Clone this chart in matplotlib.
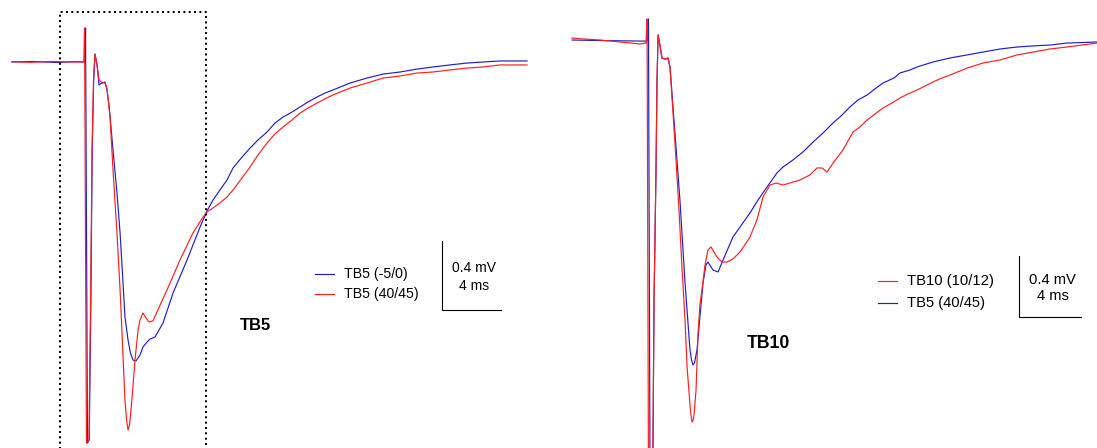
import matplotlib
matplotlib.use("Agg")
import matplotlib.pyplot as plt
from matplotlib.transforms import Affine2D

plt.rcParams['font.family'] = ['Liberation Sans', 'DejaVu Sans']

# ---- TB5 recording (time in ms from stimulus, potential in mV) ----
tb5_blue_t = [-5.02, -3.5, -2.0, -0.8, -0.08, -0.03, 0.10, 0.22, 0.33, 0.42, 0.52, 0.61,
              0.75, 0.88, 1.08, 1.29, 1.42, 1.56, 1.83, 2.10, 2.31, 2.51, 2.64, 2.85,
              3.02, 3.19, 3.39, 3.66, 3.86, 4.14, 4.34, 4.68, 5.22, 5.90, 6.85, 7.73,
              8.20, 8.61, 9.08, 9.56, 9.97, 10.58, 11.12, 11.66, 12.27, 12.81, 13.36,
              13.97, 14.51, 15.05, 15.66, 16.20, 16.75, 17.90, 19.05, 20.14, 21.29,
              22.44, 23.53, 24.68, 25.83, 26.92, 28.07, 29.90]
tb5_blue_v = [0.0, 0.003, -0.003, 0.002, 0.0, 0.197, -2.209, -2.19, -1.380, -0.510,
              -0.104, 0.046, -0.017, -0.133, -0.122, -0.116, -0.162, -0.249, -0.510,
              -0.759, -0.991, -1.281, -1.478, -1.612, -1.690, -1.728, -1.733, -1.699,
              -1.652, -1.623, -1.606, -1.594, -1.513, -1.339, -1.148, -0.957, -0.864,
              -0.800, -0.742, -0.684, -0.614, -0.551, -0.499, -0.452, -0.406, -0.354,
              -0.319, -0.290, -0.261, -0.232, -0.203, -0.180, -0.162, -0.122, -0.093,
              -0.070, -0.058, -0.041, -0.029, -0.017, -0.006, 0.0, 0.006, 0.006]

tb5_red_t = [-5.02, -3.8, -2.3, -1.0, -0.15, -0.10, 0.03, 0.20, 0.31, 0.41, 0.51, 0.61,
             0.75, 0.88, 1.08, 1.29, 1.42, 1.63, 1.83, 2.10, 2.31, 2.44, 2.64, 2.75,
             2.85, 2.95, 3.05, 3.19, 3.32, 3.53, 3.66, 3.86, 4.07, 4.27, 4.54, 4.81,
             5.02, 5.49, 6.37, 7.25, 7.93, 8.20, 8.61, 9.08, 9.56, 9.97, 10.58, 11.12,
             11.66, 12.27, 12.81, 13.36, 13.97, 14.51, 15.05, 15.66, 16.20, 16.75,
             17.90, 19.05, 20.14, 21.29, 22.44, 23.53, 24.68, 25.83, 26.92, 28.07,
             29.90]
tb5_red_v = [0.002, -0.002, 0.003, 0.0, 0.0, 0.197, -2.209, -2.19, -1.380, -0.510,
             -0.104, 0.046, -0.017, -0.104, -0.120, -0.122, -0.151, -0.319, -0.626,
             -0.991, -1.322, -1.571, -1.959, -2.075, -2.133, -2.104, -2.017, -1.872,
             -1.728, -1.554, -1.496, -1.455, -1.484, -1.507, -1.501, -1.449, -1.409,
             -1.322, -1.148, -0.991, -0.899, -0.870, -0.846, -0.817, -0.783, -0.742,
             -0.672, -0.609, -0.539, -0.470, -0.417, -0.377, -0.336, -0.296, -0.267,
             -0.238, -0.214, -0.191, -0.151, -0.122, -0.093, -0.081, -0.064, -0.058,
             -0.046, -0.035, -0.029, -0.017, -0.017]

# ---- TB10 recording ----
tb10_blue_t = [-4.90, -3.5, -2.0, -0.5, -0.05, 0.03, 0.13, 0.24, 0.32, 0.39, 0.52,
               0.58, 0.65, 0.77, 0.90, 1.10, 1.29, 1.42, 1.74, 2.06, 2.39, 2.71, 2.81,
               2.90, 3.00, 3.16, 3.35, 3.55, 3.74, 3.87, 4.19, 4.52, 4.84, 5.48, 5.94,
               6.58, 7.10, 7.68, 8.32, 8.71, 9.35, 10.00, 10.65, 11.29, 11.94, 12.52,
               13.03, 13.55, 14.13, 14.71, 15.16, 15.87, 16.26, 16.90, 17.35, 18.39,
               19.48, 20.58, 21.61, 22.71, 23.81, 24.84, 25.94, 27.03, 28.97]
tb10_blue_v = [0.0, -0.003, -0.005, -0.007, -0.007, 0.138, -2.82, -2.80, -2.669,
               -1.705, -0.833, -0.282, 0.033, -0.033, -0.118, -0.125, -0.118, -0.177,
               -0.610, -1.049, -1.593, -2.033, -2.098, -2.131, -2.118, -2.033, -1.816,
               -1.593, -1.475, -1.456, -1.508, -1.521, -1.443, -1.292, -1.226, -1.134,
               -1.049, -0.964, -0.872, -0.833, -0.787, -0.734, -0.669, -0.610, -0.544,
               -0.492, -0.439, -0.393, -0.361, -0.315, -0.282, -0.249, -0.216, -0.197,
               -0.177, -0.144, -0.118, -0.098, -0.079, -0.059, -0.046, -0.039, -0.033,
               -0.020, -0.013]

tb10_red_t = [-4.90, -4.2, -3.10, -1.81, -0.52, -0.13, -0.06, 0.03, 0.20, 0.32, 0.39,
              0.52, 0.58, 0.65, 0.77, 0.90, 1.10, 1.29, 1.42, 1.74, 2.00, 2.19, 2.39,
              2.52, 2.71, 2.78, 2.84, 2.90, 2.97, 3.10, 3.23, 3.35, 3.48, 3.68, 3.87,
              4.06, 4.26, 4.45, 4.77, 5.10, 5.48, 5.94, 6.58, 7.03, 7.42, 7.87, 8.26,
              8.71, 9.81, 10.45, 10.90, 11.23, 11.55, 11.94, 12.58, 13.23, 13.68, 14.13,
              14.65, 15.16, 15.74, 16.26, 16.77, 17.35, 17.87, 18.39, 18.97, 19.48,
              20.58, 21.61, 22.71, 23.81, 24.84, 25.94, 27.03, 28.97]
tb10_red_v = [0.013, 0.007, 0.0, -0.013, -0.026, -0.020, 0.138, -2.82, -2.80, -2.669,
              -1.705, -0.833, -0.282, 0.033, -0.033, -0.118, -0.125, -0.118, -0.177,
              -0.675, -1.115, -1.489, -1.836, -2.144, -2.393, -2.466, -2.505, -2.498,
              -2.459, -2.295, -1.921, -1.738, -1.639, -1.475, -1.377, -1.357, -1.390,
              -1.423, -1.456, -1.456, -1.436, -1.390, -1.292, -1.180, -1.030, -0.951,
              -0.938, -0.951, -0.918, -0.885, -0.839, -0.839, -0.866, -0.807, -0.721,
              -0.603, -0.570, -0.525, -0.485, -0.446, -0.413, -0.380, -0.354, -0.328,
              -0.302, -0.275, -0.249, -0.230, -0.184, -0.151, -0.131, -0.098, -0.079,
              -0.059, -0.046, -0.020]

tb5_labels = ['TB5 (-5/0)', 'TB5 (40/45)']
tb10_labels = ['TB10 (10/12)', 'TB5 (40/45)']
scale_mv = 0.4
scale_ms = 4
scale_text = ['0.4 mV', '4 ms']

BLUE = '#1f1fc8'
RED = '#ff1e1e'

W, H = 1097, 448
fig = plt.figure(figsize=(W / 100, H / 100), dpi=100)
# pixel coordinates (origin top-left) for annotations
px = Affine2D().scale(1 / W, -1 / H).translate(0, 1) + fig.transFigure


def panel(xlim, ylim):
    ax = fig.add_axes([0, 0, 1, 1])
    ax.set_xlim(*xlim)
    ax.set_ylim(*ylim)
    ax.axis('off')
    ax.patch.set_alpha(0)
    return ax


ax1 = panel((-5.831, 68.54), (-2.2377, 0.3594))
ax2 = panel((-41.806, 28.968), (-2.6754, 0.2623))

lw = 0.85
ax1.plot(tb5_blue_t, tb5_blue_v, color=BLUE, lw=lw)
ax1.plot(tb5_red_t, tb5_red_v, color=RED, lw=lw)
ax2.plot(tb10_blue_t, tb10_blue_v, color=BLUE, lw=lw)
ax2.plot(tb10_red_t, tb10_red_v, color=RED, lw=lw)

# scale bars
for ax, x0, y0, fs in [(ax1, 24.14, -1.038, 10.0), (ax2, 23.94, -1.416, 10.6)]:
    ax.plot([x0, x0, x0 + scale_ms], [y0, y0 - scale_mv, y0 - scale_mv],
            color='black', lw=0.8, solid_joinstyle='miter')
    xc = x0 + scale_ms * 0.54
    ax.text(xc, y0 - scale_mv * 0.39, scale_text[0], ha='center', va='center', fontsize=fs)
    ax.text(xc, y0 - scale_mv * 0.655, scale_text[1], ha='center', va='center', fontsize=fs)

# legends
for (xl, ys, labels, colors, fs) in [
        (315, (274, 294), tb5_labels, (BLUE, RED), 10.2),
        (878, (281, 303), tb10_labels, (RED, BLUE), 10.6)]:
    for y, lab, c in zip(ys, labels, colors):
        ax1.plot([xl, xl + 19], [y, y], color=c, lw=lw, transform=px)
        ax1.text(xl + 29, y, lab, ha='left', va='center', fontsize=fs, transform=px)

# panel titles
ax1.text(256, 326, 'TB5', ha='center', va='center', fontsize=12, fontweight='bold', transform=px)
ax1.text(768, 344, 'TB10', ha='center', va='center', fontsize=12.7, fontweight='bold', transform=px)

# dotted box around the early response
ax1.plot([60, 60, 206, 206], [470, 12.5, 12.5, 470], color='black', lw=1.45,
         ls=':', transform=px)

fig.savefig('out.png', dpi=100)
